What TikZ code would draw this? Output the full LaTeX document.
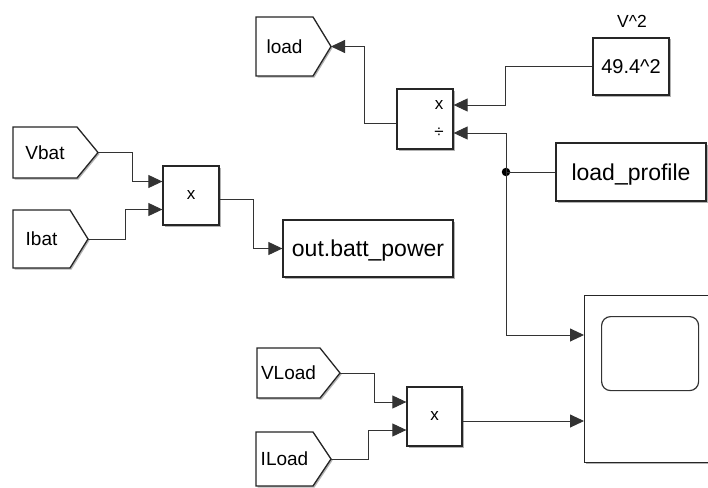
\documentclass[tikz,border=0pt]{standalone}
\usepackage{fontspec}
\setmainfont{Liberation Sans}
\usetikzlibrary{arrows.meta,shadows,calc}
\tikzset{
  blk/.style={draw=black!85, line width=1.3pt, fill=white, line join=miter,
    drop shadow={shadow xshift=1.5pt, shadow yshift=-1.5pt, opacity=0.3, fill=black}},
  box/.style={blk, rectangle, inner sep=0pt},
  wire/.style={draw=black!80, line width=0.9pt},
  sig/.style={wire, -{Triangle[length=14pt,width=13pt]}},
  tagtext/.style={font=\fontsize{19pt}{22pt}\selectfont, inner sep=0pt, text height=13.7pt, text depth=0pt},
  bigtext/.style={font=\fontsize{23pt}{26pt}\selectfont, text height=16.6pt, text depth=0pt},
  midtext/.style={font=\fontsize{20pt}{23pt}\selectfont, text height=14.4pt, text depth=0pt},
  prodsign/.style={font=\fontsize{17pt}{20pt}\selectfont, inner sep=0pt},
  jdot/.style={circle, fill=black, inner sep=0pt, minimum size=8.5pt},
}
% #1 name, #2 left, #3 top, #4 right (tip), #5 bottom, #6 slant, #7 text
\newcommand\simtag[7]{%
  \draw[blk] (#2,#3) -- ({#4-#6},#3) -- (#4,{(#3+#5)/2}) -- ({#4-#6},#5) -- (#2,#5) -- cycle;
  \node[tagtext] (#1) at ({(#2+#4-#6)/2},{(#3+#5)/2}) {#7};
  \coordinate (#1tip) at (#4,{(#3+#5)/2});
}
\begin{document}
\begin{tikzpicture}[x=1pt,y=-1pt]
\clip (0,0) rectangle (708,487);
\fill[white] (0,0) rectangle (708,487);

% goto / from tags
\simtag{load}{256}{17}{331}{76}{18}{load}
\simtag{vbat}{13}{127}{98}{178}{21}{Vbat}
\simtag{ibat}{13}{210}{88}{268}{18}{Ibat}
\simtag{vload}{257}{348}{340}{398}{20}{VLoad}
\simtag{iload}{256}{432}{331}{486}{18}{ILoad}

% blocks
\node[box, prodsign, minimum width=56pt, minimum height=59pt] (p1) at (191,195.5) {x};
\node[box, minimum width=56pt, minimum height=60pt] (p2) at (425,119) {};
\node[prodsign] (p2x) at (439,105) {x};
\node[prodsign] (p2d) at (439,133) {÷};
\node[box, prodsign, minimum width=55pt, minimum height=59pt] (p3) at (434.5,416.5) {x};
\node[box, bigtext, minimum width=170pt, minimum height=57pt] (batt) at (368,248.5) {out.batt\_power};
\node[box, midtext, minimum width=76pt, minimum height=57pt] (vsq) at (631,66.5) {49.4\textasciicircum 2};
\node[font=\fontsize{17.5pt}{20pt}\selectfont] (vsqlabel) at (632,21) {V\textasciicircum 2};
\node[box, bigtext, minimum width=150pt, minimum height=58pt] (lp) at (631,172) {load\_profile};
\node[box, minimum width=140pt, minimum height=167pt, anchor=north west] (scope) at (584,295) {};
\node[draw=black!80, line width=1.2pt, rounded corners=9pt, minimum width=97pt, minimum height=74pt,
      inner sep=0pt, anchor=north west] (screen) at (601,316) {};

% junction
\node[jdot] (jn) at (506,172) {};

% connectors
\draw[sig] (vbattip) -- ++(34,0) |- ($(p1.west)+(0,-14)$);
\draw[sig] (ibattip) -- ++(37,0) |- ($(p1.west)+(0,14)$);
\draw[sig] ($(p1.east)+(0,3.5)$) -- ++(34,0) |- (batt.west);
\draw[sig] (vsq.west) -- ++(-87,0) |- ($(p2.east)+(0,-14)$);
\draw[wire] (lp.west) -- (jn.center);
\draw[sig] (jn.center) |- ($(p2.east)+(0,14)$);
\draw[sig] (jn.center) |- ($(scope.north west)+(0,40)$);
\draw[sig] ($(p2.west)+(0,4)$) -- ++(-32,0) |- (loadtip);
\draw[sig] (vloadtip) -- ++(34,0) |- ($(p3.west)+(0,-14.5)$);
\draw[sig] (iloadtip) -- ++(37,0) |- ($(p3.west)+(0,13.5)$);
\draw[sig] ($(p3.east)+(0,4.5)$) -- ($(scope.north west)+(0,126)$);
\end{tikzpicture}
\end{document}
